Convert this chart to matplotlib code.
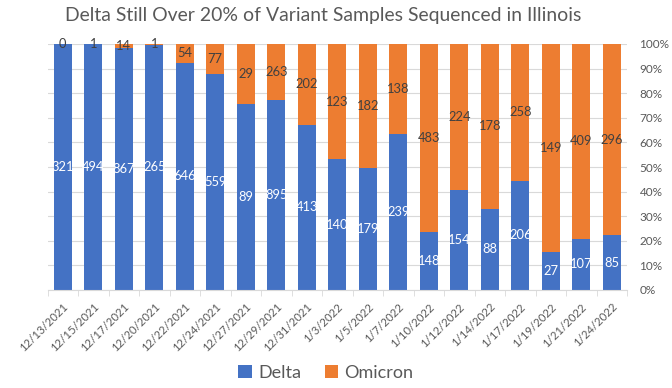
import matplotlib
matplotlib.use("Agg")
import matplotlib.pyplot as plt
import numpy as np
from matplotlib.ticker import FixedLocator, PercentFormatter

dates = ["12/13/2021", "12/15/2021", "12/17/2021", "12/20/2021", "12/22/2021",
         "12/24/2021", "12/27/2021", "12/29/2021", "12/31/2021", "1/3/2022",
         "1/5/2022", "1/7/2022", "1/10/2022", "1/12/2022", "1/14/2022",
         "1/17/2022", "1/19/2022", "1/21/2022", "1/24/2022"]
delta = [321, 494, 867, 265, 646, 559, 89, 895, 413, 140, 179, 239, 148, 154, 88, 206, 27, 107, 85]
omicron = [0, 1, 14, 1, 54, 77, 29, 263, 202, 123, 182, 138, 483, 224, 178, 258, 149, 409, 296]

plt.rcParams['font.family'] = ['Lato', 'DejaVu Sans']
W, H = 672, 388
fig = plt.figure(figsize=(W/100, H/100), dpi=100)
ax = fig.add_axes([47.5/W, 1-290/H, (627-47.5)/W, (290-44)/H])

n = len(dates)
x = np.arange(n)
d = np.array(delta, float)
o = np.array(omicron, float)
tot = d + o
dp = d / tot
op = o / tot
blue = "#4472C4"
orange = "#ED7D31"
ax.bar(x, dp, width=0.59, color=blue, label="Delta", zorder=2)
ax.bar(x, op, width=0.59, bottom=dp, color=orange, label="Omicron", zorder=2)

for i in range(n):
    ax.text(x[i], dp[i]/2, str(delta[i]), ha="center", va="center", color="white", fontsize=9.3, zorder=3)
    ax.text(x[i], dp[i] + op[i]/2, str(omicron[i]), ha="center", va="center", color="#404040", fontsize=9.3, zorder=3)

ax.set_xlim(-0.5, n-0.5)
ax.set_ylim(0, 1)
ax.yaxis.tick_right()
ax.set_yticks(np.arange(0, 1.01, 0.1))
ax.yaxis.set_major_formatter(PercentFormatter(1.0, decimals=0))
ax.tick_params(axis="y", length=0, labelsize=8.5, labelcolor="#595959", pad=9)
ax.grid(axis="y", color="#D9D9D9", linewidth=0.8, zorder=0)
ax.set_xticks(x)
ax.set_xticklabels(dates, rotation=45, ha="right", rotation_mode="anchor", fontsize=8.2, color="#595959")
ax.tick_params(axis="x", length=0, pad=8)
ax.xaxis.set_minor_locator(FixedLocator(np.arange(-0.5, n, 1.0)))
ax.tick_params(axis="x", which="minor", length=4, color="#D9D9D9")
for s in ["top", "left", "right"]:
    ax.spines[s].set_visible(False)
ax.spines["bottom"].set_color("#D9D9D9")

title = fig.text(323/W, 1-16/H, "Delta Still Over 20% of Variant Samples Sequenced in Illinois",
                 ha="center", va="center", fontsize=14, color="#595959")
fig.canvas.draw()
tw = title.get_window_extent().width
title.set_fontsize(14 * 517 / tw)

fig.legend(loc="center", bbox_to_anchor=(326/W, 1-373/H), ncol=2, frameon=False,
           fontsize=13, labelcolor="#595959", handlelength=0.75, handleheight=0.75,
           handletextpad=0.35, columnspacing=1.3)
fig.savefig("out.png", dpi=100)
